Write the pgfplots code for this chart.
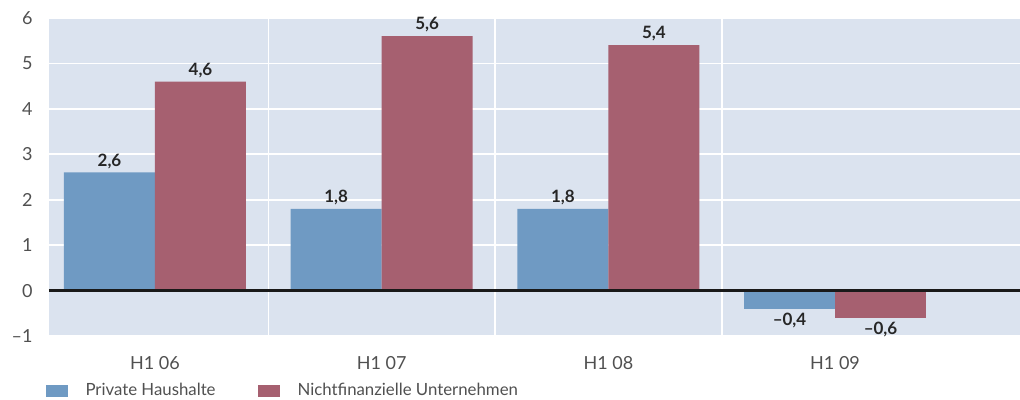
\documentclass[border=0pt]{standalone}
\usepackage{fontspec}
\setmainfont{Lato}
\usepackage{pgfplots}
\pgfplotsset{compat=1.18}
\definecolor{cblue}{RGB}{111,154,195}
\definecolor{cred}{RGB}{166,96,112}
\definecolor{cbg}{RGB}{219,227,239}
\definecolor{ctick}{RGB}{80,80,80}
\begin{document}
\begin{tikzpicture}
\useasboundingbox (0,0) rectangle (510pt,200pt);
\begin{axis}[
  at={(24.5pt,32pt)}, anchor=south west,
  scale only axis, width=485.5pt, height=159pt,
  xmin=-0.4676, xmax=3.816, ymin=-1, ymax=6,
  ybar=0pt, bar width=45.5pt,
  axis background/.style={fill=cbg},
  axis line style={draw=none},
  major tick length=0pt,
  xtick={0,1,2,3}, xticklabels={H1 06,H1 07,H1 08,H1 09},
  ytick={-1,0,1,2,3,4,5,6}, yticklabels={–1,0,1,2,3,4,5,6},
  ymajorgrids, grid style={white, line width=0.8pt},
  extra x ticks={0.5,1.5,2.5}, extra x tick labels={},
  extra x tick style={grid=major, major grid style={white, line width=0.8pt}},
  yticklabel style={font=\fontsize{9}{10}\selectfont, text=ctick, inner sep=0pt, xshift=-8pt},
  xticklabel style={font=\fontsize{9}{10}\selectfont, text=ctick, inner sep=0pt, yshift=-10pt},
  point meta=explicit symbolic,
  nodes near coords,
  every node near coord/.append style={font=\bfseries\fontsize{8.5}{10}\selectfont, text=black!85, inner sep=1.8pt, anchor=south},
  legend style={at={(-0.004,-0.173)}, anchor=west, draw=none, fill=none,
    legend columns=2, font=\fontsize{8.4}{10}\selectfont, text=ctick,
    inner sep=0pt, legend cell align=left,
    /tikz/every odd column/.append style={column sep=7pt},
    /tikz/every even column/.append style={column sep=19pt}},
  legend image code/.code={\fill[#1] (0pt,-3pt) rectangle (11pt,3pt);},
  clip=false,
]
\addplot[fill=cblue, draw=none, bar shift=-22.75pt] coordinates {(0,2.6) [2,6] (1,1.8) [1,8] (2,1.8) [1,8]};
\addplot[fill=cred, draw=none, bar shift=22.75pt] coordinates {(0,4.6) [4,6] (1,5.6) [5,6] (2,5.4) [5,4]};
\addplot[fill=cblue, draw=none, bar shift=-22.75pt, forget plot,
  every node near coord/.append style={anchor=north}] coordinates {(3,-0.4) [–0,4]};
\addplot[fill=cred, draw=none, bar shift=22.75pt, forget plot,
  every node near coord/.append style={anchor=north}] coordinates {(3,-0.6) [–0,6]};
\draw[black!90, line width=1.1pt] ({rel axis cs:0,0}|-{axis cs:0,0}) -- ({rel axis cs:1,0}|-{axis cs:0,0});
\legend{Private Haushalte, Nichtfinanzielle Unternehmen}
\end{axis}
\end{tikzpicture}
\end{document}
